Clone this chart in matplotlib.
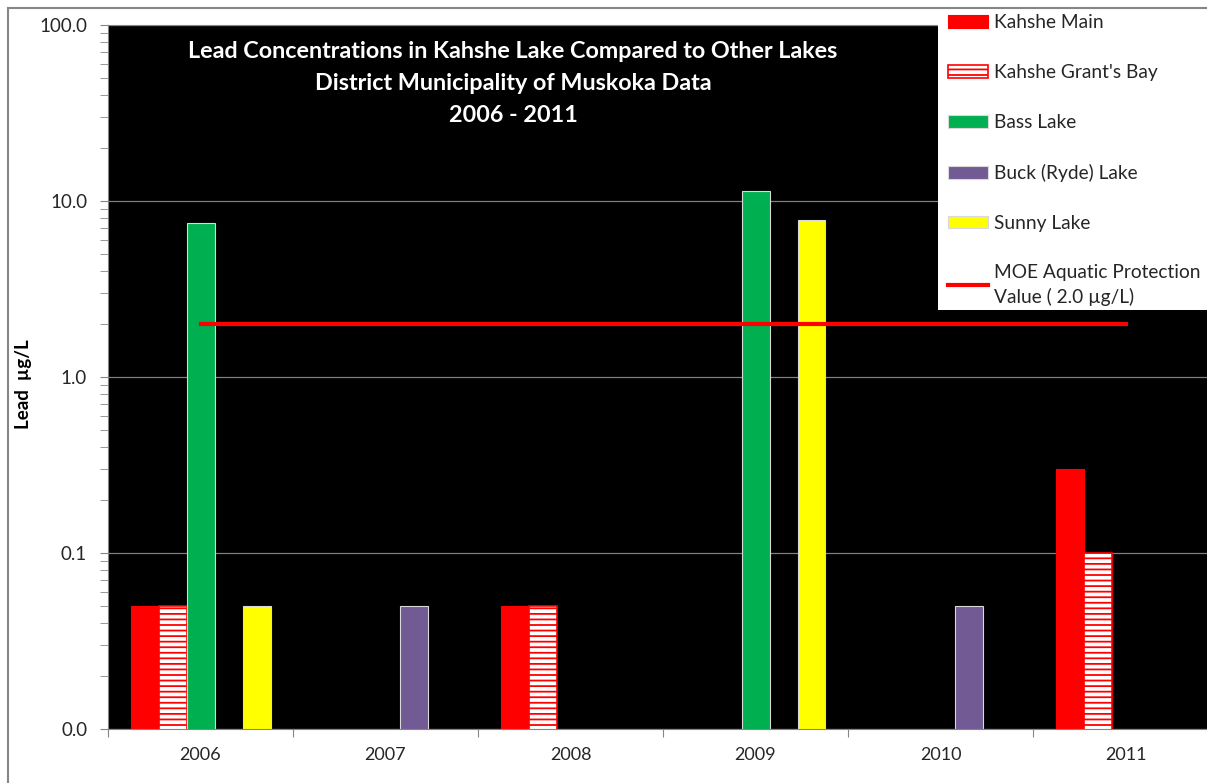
import numpy as np
import matplotlib.pyplot as plt
from matplotlib.patches import Rectangle
from matplotlib.ticker import FuncFormatter, LogLocator

years = ['2006', '2007', '2008', '2009', '2010', '2011']
nan = np.nan
kahshe_main = [0.05, nan, 0.05, nan, nan, 0.3]
kahshe_grants_bay = [0.05, nan, 0.05, nan, nan, 0.1]
bass_lake = [7.5, nan, nan, 11.4, nan, nan]
buck_lake = [nan, 0.05, nan, nan, 0.05, nan]
sunny_lake = [0.05, nan, nan, 7.8, nan, nan]
moe_value = [2.0, 2.0, 2.0, 2.0, 2.0, 2.0]

title_lines = ['Lead Concentrations in Kahshe Lake Compared to Other Lakes',
               'District Municipality of Muskoka Data',
               '2006 - 2011']

plt.rcParams['font.family'] = ['Lato', 'DejaVu Sans']
plt.rcParams['hatch.linewidth'] = 1.3

W, H = 1207, 783
fig = plt.figure(figsize=(W / 100, H / 100), dpi=100)
ax = fig.add_axes([108 / W, 54 / H, (1218 - 108) / W, (729 - 25) / H])
ax.set_facecolor('black')

x = np.arange(len(years))
w = 28 / 185
series = [
    ('Kahshe Main', kahshe_main, dict(color='#ff0000', edgecolor='#ff0000', linewidth=0.8)),
    ("Kahshe Grant's Bay", kahshe_grants_bay, dict(color='white', edgecolor='#ff0000', hatch='---', linewidth=1.2)),
    ('Bass Lake', bass_lake, dict(color='#00b050', edgecolor='#d9d9d9', linewidth=0.8)),
    ('Buck (Ryde) Lake', buck_lake, dict(color='#725a94', edgecolor='#d9d9d9', linewidth=0.8)),
    ('Sunny Lake', sunny_lake, dict(color='#ffff00', edgecolor='#d9d9d9', linewidth=0.8)),
]

handles = []
for i, (name, vals, style) in enumerate(series):
    h = ax.bar(x + (i - 2) * w, vals, w, label=name, zorder=2, **style)
    handles.append(h)

line, = ax.plot(x, moe_value, color='#ff0000', lw=3, zorder=3,
                label='MOE Aquatic Protection\nValue ( 2.0 µg/L)')
handles.append(line)

ax.set_yscale('log')
ax.set_ylim(0.01, 100)
ax.set_xlim(-0.5, 5.5)
ax.yaxis.set_major_locator(LogLocator(base=10, numticks=10))
ax.yaxis.set_minor_locator(LogLocator(base=10, subs=np.arange(2, 10), numticks=10))
ax.yaxis.set_major_formatter(FuncFormatter(lambda v, p: f'{v:.1f}'))
ax.yaxis.set_minor_formatter(FuncFormatter(lambda v, p: ''))
ax.grid(axis='y', which='major', color='#7f7f7f', lw=0.9, zorder=1)
ax.set_axisbelow(True)

ax.set_xticks(np.arange(-0.5, 6, 1))
ax.set_xticklabels([])
ax.set_xticks(x, minor=True)
ax.set_xticklabels(years, minor=True)
ax.tick_params(axis='x', which='major', direction='out', length=6, color='#868686')
ax.tick_params(axis='x', which='minor', length=0, pad=13, labelsize=13, labelcolor='#262626')
ax.tick_params(axis='y', which='both', direction='out', length=6, color='#868686',
               labelsize=13.5, labelcolor='#262626', pad=9)

for s in ax.spines.values():
    s.set_color('#868686')

ax.set_ylabel('Lead  µg/L', fontsize=13.5, fontweight='bold')
ax.yaxis.set_label_coords(-76 / 1110, 0.49)

for k, t in enumerate(title_lines):
    fig.text(513 / W, 1 - (52 + 32 * k) / H, t, color='white', fontsize=16.8,
             fontweight='bold', ha='center', va='center')

# figure border
fig.patches.append(Rectangle((8 / W, -0.1), 2, 1 - 8 / H + 0.1, transform=fig.transFigure,
                             fill=False, edgecolor='#868686', lw=1.5, zorder=0.5))
# legend box
fig.patches.append(Rectangle((938 / W, 1 - 310 / H), 0.3, (310 - 10) / H, transform=fig.transFigure,
                             facecolor='white', edgecolor='none', zorder=1))

leg = fig.legend(handles=handles, loc='upper left', bbox_to_anchor=(936 / W, 1 - 3 / H),
                 frameon=False, fontsize=13.8, labelspacing=1.71, handlelength=2.1,
                 handleheight=0.65, handletextpad=0.3, borderpad=0.1,
                 labelcolor='#262626')
for t in leg.get_texts():
    t.set_linespacing(1.4)

fig.savefig('out.png', dpi=100)
